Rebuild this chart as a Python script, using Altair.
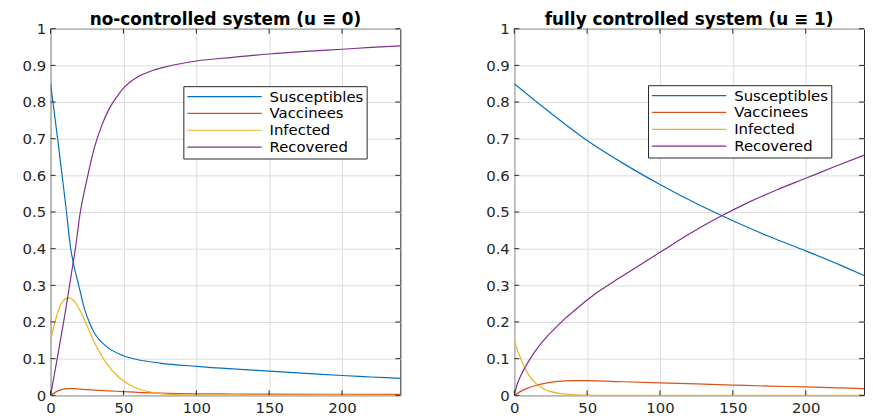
import altair as alt
import pandas as pd

series_names = ["Susceptibles", "Vaccinees", "Infected", "Recovered"]
series_colors = ["#0072BD", "#D95319", "#EDB120", "#7E2F8E"]
titles = ["no-controlled system (u \u2261 0)", "fully controlled system (u \u2261 1)"]
x_ticks = [0, 50, 100, 150, 200]
y_ticks = [0, 0.1, 0.2, 0.3, 0.4, 0.5, 0.6, 0.7, 0.8, 0.9, 1]

# ---- panel 1: no control ----
t_s0 = [0, 1.6, 4.8, 7.9, 10.9, 13.8, 15.4, 19.3, 23.3, 27, 30, 35, 40, 50, 60, 75, 100, 125, 150, 175, 200, 220, 240]
s0 = [0.85, 0.8, 0.7, 0.6, 0.5, 0.4, 0.365, 0.3, 0.235, 0.195, 0.17, 0.145, 0.128, 0.108, 0.097, 0.088, 0.079, 0.072, 0.066, 0.06, 0.054, 0.05, 0.046]
t_v0 = [0, 4, 8, 12, 16, 20, 30, 40, 50, 60, 75, 100, 125, 150, 200, 240]
v0 = [0, 0.01, 0.016, 0.018, 0.018, 0.017, 0.014, 0.012, 0.01, 0.008, 0.006, 0.004, 0.0035, 0.003, 0.0028, 0.0025]
t_i0 = [0, 3, 6, 9, 12.5, 15, 18, 21, 25, 30, 35, 40, 45, 50, 55, 60, 70, 80, 90, 100, 150, 200, 240]
i0 = [0.15, 0.2, 0.238, 0.26, 0.266, 0.262, 0.247, 0.225, 0.19, 0.145, 0.108, 0.078, 0.056, 0.039, 0.027, 0.018, 0.008, 0.003, 0.001, 0.0003, 0, 0, 0]
t_r0 = [0, 5, 10, 15, 17, 20, 25, 30, 35, 40, 45, 50, 55, 60, 70, 80, 100, 125, 150, 175, 200, 220, 240]
r0 = [0, 0.11, 0.225, 0.35, 0.4, 0.49, 0.59, 0.675, 0.735, 0.78, 0.812, 0.838, 0.856, 0.869, 0.886, 0.897, 0.912, 0.922, 0.931, 0.938, 0.944, 0.949, 0.953]

# ---- panel 2: full control ----
t_s1 = [0, 25, 50, 75, 100, 125, 150, 175, 200, 225, 240]
s1 = [0.85, 0.77, 0.695, 0.632, 0.575, 0.523, 0.476, 0.433, 0.394, 0.353, 0.327]
t_v1 = [0, 5, 10, 15, 20, 30, 40, 50, 75, 100, 125, 150, 175, 200, 225, 240]
v1 = [0, 0.012, 0.021, 0.027, 0.032, 0.038, 0.04, 0.04, 0.037, 0.034, 0.031, 0.028, 0.025, 0.023, 0.02, 0.018]
t_i1 = [0, 2, 4, 6, 8, 10, 15, 20, 25, 30, 40, 50, 60, 100, 150, 200, 240]
i1 = [0.15, 0.125, 0.105, 0.085, 0.068, 0.055, 0.032, 0.018, 0.01, 0.006, 0.002, 0.0005, 0, 0, 0, 0, 0]
t_r1 = [0, 2, 5, 8, 10, 15, 20, 25, 30, 35, 40, 50, 60, 70, 80, 100, 120, 140, 160, 180, 200, 220, 240]
r1 = [0, 0.03, 0.058, 0.08, 0.094, 0.124, 0.149, 0.171, 0.191, 0.21, 0.227, 0.26, 0.289, 0.315, 0.34, 0.39, 0.44, 0.485, 0.525, 0.56, 0.592, 0.624, 0.655]

W, H = 353, 370
TICK = 5
AXIS_COLOR = "#262626"
GRID_COLOR = "#dcdcdc"
FONT = "DejaVu Sans"


def long_df(ts, vs):
    rows = []
    for name, t, v in zip(series_names, ts, vs):
        for a, b in zip(t, v):
            rows.append({"t": a, "v": b, "series": name})
    return pd.DataFrame(rows)


df0 = long_df([t_s0, t_v0, t_i0, t_r0], [s0, v0, i0, r0])
df1 = long_df([t_s1, t_v1, t_i1, t_r1], [s1, v1, i1, r1])

xt = pd.DataFrame({"t": x_ticks})
yt = pd.DataFrame({"v": y_ticks})

x_scale = alt.Scale(domain=[0, 240], nice=False, zero=False)
y_scale = alt.Scale(domain=[0, 1], nice=False)
x_axis = alt.Axis(values=x_ticks, grid=True, gridColor=GRID_COLOR, domain=False,
                  ticks=False, tickSize=0, labelPadding=5, labelFontSize=15,
                  labelFont=FONT, labelColor=AXIS_COLOR, labelFlush=False, title=None)
y_axis = alt.Axis(values=y_ticks, format="~g", grid=True, gridColor=GRID_COLOR,
                  domain=False, ticks=False, tickSize=0, labelPadding=5,
                  labelFontSize=15, labelFont=FONT, labelColor=AXIS_COLOR,
                  minExtent=42, maxExtent=42, title=None)


def panel(df, title, lx, ly):
    lines = alt.Chart(df).mark_line(strokeWidth=1.2, interpolate="monotone", clip=True).encode(
        x=alt.X("t:Q", scale=x_scale, axis=x_axis),
        y=alt.Y("v:Q", scale=y_scale, axis=y_axis),
        color=alt.Color("series:N", sort=series_names,
                        scale=alt.Scale(domain=series_names, range=series_colors),
                        legend=alt.Legend(title=None, orient="none", legendX=lx, legendY=ly,
                                          symbolType="stroke", symbolSize=5625,
                                          symbolStrokeWidth=1.2, clipHeight=15, rowPadding=1,
                                          labelFontSize=15, labelFont=FONT, labelColor="#000000",
                                          labelOffset=7, padding=3, fillColor="#ffffff",
                                          strokeColor=AXIS_COLOR, cornerRadius=0)),
    )
    yl = alt.Chart(yt).mark_rule(color=AXIS_COLOR, strokeWidth=1).encode(
        y=alt.Y("v:Q", scale=y_scale, axis=y_axis), x=alt.value(0), x2=alt.value(TICK))
    yr = alt.Chart(yt).mark_rule(color=AXIS_COLOR, strokeWidth=1).encode(
        y=alt.Y("v:Q", scale=y_scale, axis=y_axis), x=alt.value(W - TICK), x2=alt.value(W))
    xb = alt.Chart(xt).mark_rule(color=AXIS_COLOR, strokeWidth=1).encode(
        x=alt.X("t:Q", scale=x_scale, axis=x_axis), y=alt.value(H), y2=alt.value(H - TICK))
    xtop = alt.Chart(xt).mark_rule(color=AXIS_COLOR, strokeWidth=1).encode(
        x=alt.X("t:Q", scale=x_scale, axis=x_axis), y=alt.value(0), y2=alt.value(TICK))
    return alt.layer(lines, yl, yr, xb, xtop).properties(
        width=W, height=H,
        title=alt.TitleParams(title, font=FONT, fontSize=17, fontWeight="bold",
                              color="#000000", offset=-7, anchor="middle", frame="group"))


left = panel(df0, titles[0], 134, 58)
right = panel(df1, titles[1], 135, 57)

chart = alt.hconcat(left, right, spacing=71).resolve_legend(color="independent").properties(
    padding=0
).configure_view(stroke=AXIS_COLOR, strokeWidth=1)

chart.save("out.html", embed_options={"renderer": "svg", "actions": False})
